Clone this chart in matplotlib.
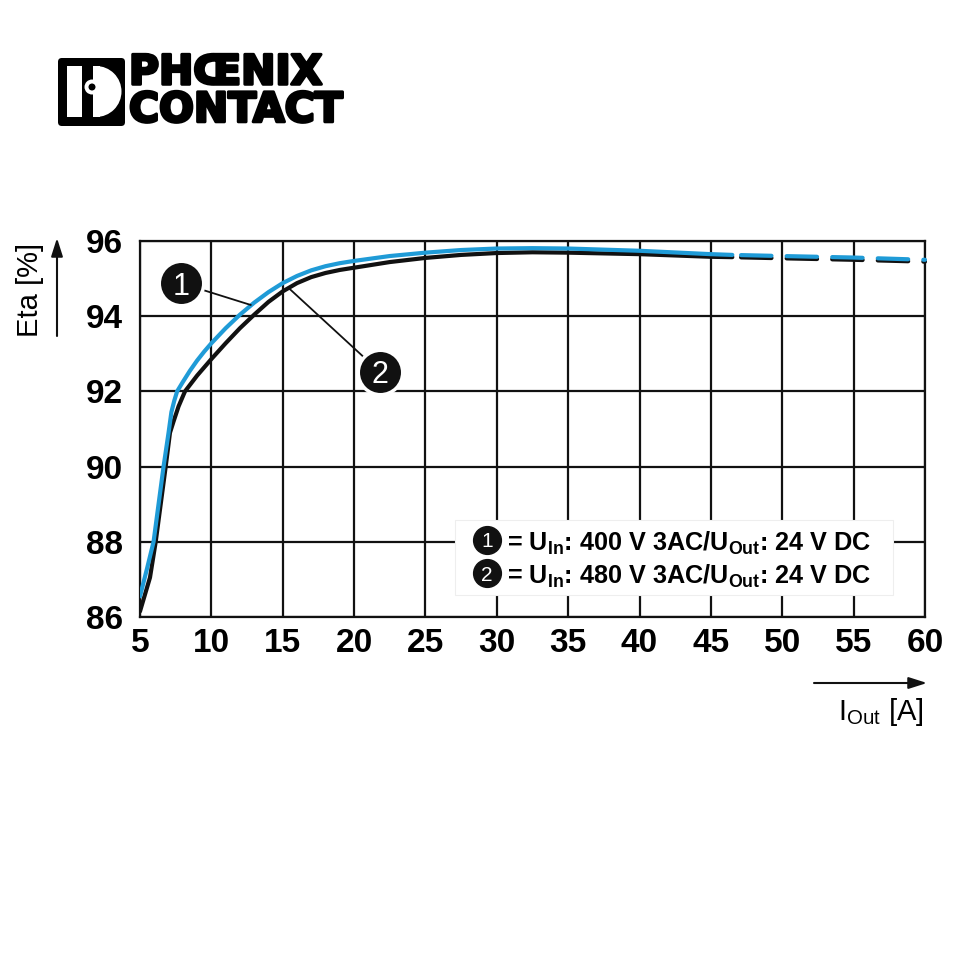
import matplotlib
matplotlib.use("Agg")
import matplotlib.pyplot as plt
import matplotlib.patheffects as pe
from matplotlib.patches import FancyBboxPatch, Rectangle, Circle, Wedge
import numpy as np

plt.rcParams["font.family"] = ["Liberation Sans", "DejaVu Sans"]
plt.rcParams["mathtext.fontset"] = "custom"
plt.rcParams["mathtext.rm"] = "Liberation Sans"
plt.rcParams["mathtext.bf"] = "Liberation Sans:bold"

# efficiency curves
i_out_1 = [5, 5.5, 5.95, 6.3, 6.65, 7.0, 7.2, 7.4, 7.6, 8, 8.5, 9, 9.5, 10, 11,
           12, 13, 14, 15, 16, 17, 18, 19, 20, 22.5, 25, 27.5, 30, 32.5, 35,
           40, 45, 46.5, 50, 55, 60]
eta_1 = [86.55, 87.3, 88.0, 89.0, 90.0, 90.9, 91.45, 91.75, 92.0, 92.25, 92.55,
         92.82, 93.06, 93.28, 93.68, 94.04, 94.36, 94.64, 94.88, 95.07, 95.22,
         95.33, 95.41, 95.47, 95.6, 95.69, 95.76, 95.8, 95.81, 95.8, 95.74,
         95.65, 95.63, 95.6, 95.56, 95.5]
i_out_2 = [5, 5.7, 6.1, 6.45, 6.8, 7.1, 7.35, 7.7, 8.15, 9, 10, 11, 12, 13, 14,
           15, 16, 17, 18, 19, 20, 22.5, 25, 27.5, 30, 32.5, 35, 40, 45, 46.5,
           50, 55, 60]
eta_2 = [86.15, 87.05, 88.0, 89.0, 90.0, 90.9, 91.2, 91.6, 92.0, 92.42, 92.86,
         93.28, 93.68, 94.04, 94.38, 94.66, 94.88, 95.04, 95.15, 95.23, 95.29,
         95.44, 95.55, 95.63, 95.68, 95.7, 95.69, 95.65, 95.58, 95.57, 95.54,
         95.5, 95.45]
measured_max = 46.5  # beyond this the curves are dashed

x_ticks = [5, 10, 15, 20, 25, 30, 35, 40, 45, 50, 55, 60]
y_ticks = [86, 88, 90, 92, 94, 96]
legend_lines = [r"= $\mathbf{U_{In}}$: 400 V 3AC/$\mathbf{U_{Out}}$: 24 V DC",
                r"= $\mathbf{U_{In}}$: 480 V 3AC/$\mathbf{U_{Out}}$: 24 V DC"]

BLUE = "#1f9bd7"
INK = "#111111"
W = 960.0


def fx(px):
    return px / W


def fy(py):
    return 1 - py / W


fig = plt.figure(figsize=(9.6, 9.6), dpi=100)
ax = fig.add_axes([fx(140), fy(617), fx(925) - fx(140), fy(241) - fy(617)])
ax.set_xlim(5, 60)
ax.set_ylim(86, 96)
ax.set_xticks(x_ticks)
ax.set_yticks(y_ticks)
ax.tick_params(length=0, labelsize=24)
ax.tick_params(axis="x", pad=8)
ax.tick_params(axis="y", pad=12)
for lab in ax.get_xticklabels() + ax.get_yticklabels():
    lab.set_fontweight("bold")
ax.grid(True, color=INK, lw=1.6)
for sp in ax.spines.values():
    sp.set_color(INK)
    sp.set_linewidth(1.6)
ax.set_axisbelow(True)


def draw_curve(xs, ys, color, z):
    xs = np.asarray(xs)
    ys = np.asarray(ys)
    k = int(np.searchsorted(xs, measured_max))
    ax.plot(xs[:k + 1], ys[:k + 1], color=color, lw=3.0, solid_capstyle="round",
            solid_joinstyle="round", zorder=z)
    ax.plot(xs[k:], ys[k:], color=color, lw=3.0, dash_capstyle="round",
            linestyle=(8.84, (7.3, 3.64)), zorder=z, clip_on=False)


draw_curve(i_out_2, eta_2, INK, 3)
draw_curve(i_out_1, eta_1, BLUE, 4)

# callouts
callouts = [("1", (7.87, 94.88), (12.75, 94.3)),
            ("2", (21.8, 92.52), (15.5, 94.72))]
for num, (cx, cy), (tx, ty) in callouts:
    ax.plot([cx, tx], [cy, ty], color=INK, lw=1.3, zorder=5)
    ax.plot(cx, cy, "o", ms=32, mfc=INK, mec="white", mew=2.5, zorder=6)
    ax.text(cx, cy, num, color="white", fontsize=22, ha="center", va="center_baseline", zorder=7)

# legend box
ax.add_patch(Rectangle((0.401, 0.058), 0.558, 0.2, transform=ax.transAxes,
                       facecolor="white", edgecolor="#eeeeee", lw=0.8, zorder=8))
for j, (txt, yl) in enumerate(zip(legend_lines, [0.205, 0.117])):
    ax.plot(0.442, yl, "o", ms=20, mfc=INK, mec=INK, transform=ax.transAxes, zorder=9)
    ax.text(0.442, yl, str(j + 1), color="white", fontsize=15, ha="center",
            va="center_baseline", transform=ax.transAxes, zorder=10)
    ax.text(0.467, yl, txt, fontsize=18.2, fontweight="bold", ha="left",
            va="center_baseline", transform=ax.transAxes, zorder=10)

# axis labels with arrows
fig.text(fx(30), fy(290), "Eta [%]", rotation=90, fontsize=21, ha="center", va="center")
ax.annotate("", xy=(fx(57), fy(238)), xytext=(fx(57), fy(336)),
            xycoords="figure fraction", textcoords="figure fraction",
            arrowprops=dict(arrowstyle="-|>,head_length=1.1,head_width=0.35",
                            color=INK, lw=1.5, shrinkA=0, shrinkB=0))
fig.text(fx(838), fy(712), r"I$_{\mathrm{Out}}$ [A]", fontsize=21, ha="left", va="center")
ax.annotate("", xy=(fx(927), fy(683)), xytext=(fx(814), fy(683)),
            xycoords="figure fraction", textcoords="figure fraction",
            arrowprops=dict(arrowstyle="-|>,head_length=1.1,head_width=0.35",
                            color=INK, lw=1.5, shrinkA=0, shrinkB=0))

# Phoenix Contact logo
logo = [
    FancyBboxPatch((fx(58), fy(126)), fx(67), fy(58) - fy(126),
                   boxstyle="round,pad=0,rounding_size=0.004", fc="black", ec="none"),
    Rectangle((fx(67), fy(117)), fx(33), fy(66) - fy(117), fc="white", ec="none"),
    Wedge((fx(96), fy(91.5)), fx(25.5), -90, 90, fc="white", ec="none"),
    Rectangle((fx(82), fy(117)), fx(11), fy(66) - fy(117), fc="black", ec="none"),
    Circle((fx(92), fy(87)), fx(7.5), fc="white", ec="none"),
    Circle((fx(92), fy(87)), fx(3.5), fc="black", ec="none"),
]
for p in logo:
    p.set_transform(fig.transFigure)
    fig.patches.append(p)
heavy = [pe.withStroke(linewidth=2.2, foreground="black")]
fig.text(fx(129), fy(92), "PHŒNIX\nCONTACT", fontsize=29.5, fontweight="bold",
         family="DejaVu Sans", ha="left", va="center", multialignment="left",
         linespacing=0.92, path_effects=heavy)

fig.savefig("out.png", dpi=100, facecolor="white")
